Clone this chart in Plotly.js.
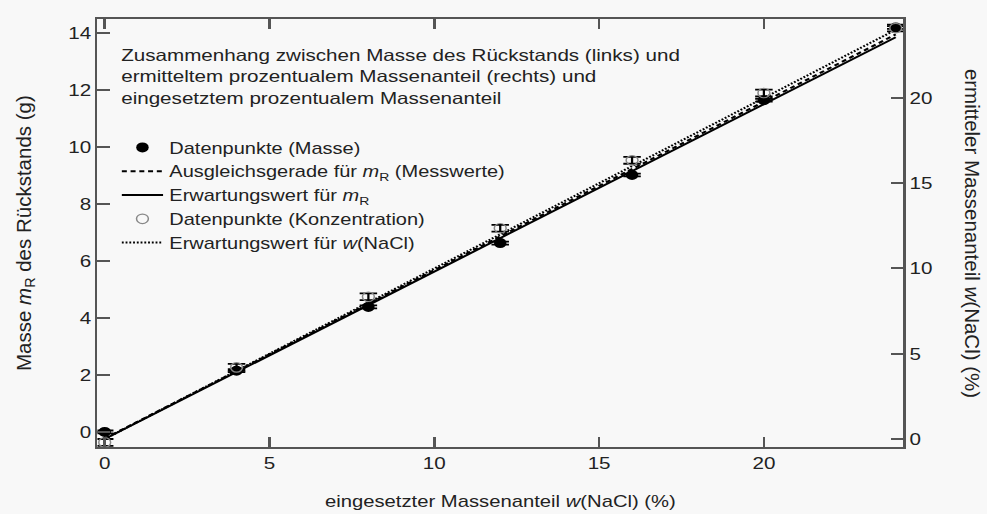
<!DOCTYPE html>
<html><head><meta charset="utf-8">
<script src="https://cdn.plot.ly/plotly-3.0.1.min.js"></script>
<style>
html,body{margin:0;padding:0;background:#f8f8f8;overflow:hidden;}
#wrap{width:987px;height:514px;overflow:hidden;}
#plot{width:790px;height:514px;transform:scaleX(1.2494);transform-origin:0 0;}
</style>
</head><body><div id="wrap"><div id="plot"></div></div>
<script>
// eingesetzter Massenanteil w(NaCl) in %
const wSet = [0, 4, 8, 12, 16, 20, 24];
// Masse des Rückstands m_R in g (Datenpunkte)
const massR = [0.0, 2.15, 4.39, 6.63, 9.02, 11.65, 14.2];
const massErr = [0.05, 0.05, 0.05, 0.05, 0.05, 0.05, 0.05];
// ermittelter Massenanteil in % (Datenpunkte)
const wFound = [-0.2, 4.2, 8.34, 12.36, 16.34, 20.29, 24.1];
const wErr = [0.2, 0.2, 0.2, 0.2, 0.2, 0.2, 0.2];
// Linien (Endpunkte)
const lineX = [0, 24];
const fitMass = [-0.23, 13.96];
const expMass = [-0.25, 13.86];
const expW = [0, 24];

const S = 987 / 790;
const font = "Liberation Sans, Arial, sans-serif";
const fs = 16.5;
const traces = [
  {x: lineX, y: fitMass, mode: 'lines', name: 'Ausgleichsgerade für <i>m</i><sub>R</sub> (Messwerte)',
   line: {color: '#000', width: 2, dash: '4px,3px'}, legendrank: 2},
  {x: lineX, y: expMass, mode: 'lines', name: 'Erwartungswert für <i>m</i><sub>R</sub>',
   line: {color: '#000', width: 2}, legendrank: 3},
  {x: lineX, y: expW, mode: 'lines', yaxis: 'y2', name: 'Erwartungswert für <i>w</i>(NaCl)',
   line: {color: '#000', width: 2, dash: '1.5px,1.5px'}, legendrank: 5},
  {x: wSet, y: wFound, mode: 'markers', yaxis: 'y2', name: 'Datenpunkte (Konzentration)',
   error_y: {type: 'data', array: wErr, visible: true, color: '#000', thickness: 1.8, width: 7},
   marker: {symbol: 'circle-open', size: 9.5, color: '#888', line: {width: 1.2, color: '#888'}}, legendrank: 4},
  {x: wSet, y: massR, mode: 'markers', name: 'Datenpunkte (Masse)',
   error_y: {type: 'data', array: massErr, visible: true, color: '#000', thickness: 1.8, width: 7},
   marker: {symbol: 'circle', size: 10, color: '#000'}, legendrank: 1}
];

const layout = {
  width: 790, height: 514,
  paper_bgcolor: '#f8f8f8', plot_bgcolor: '#f8f8f8',
  margin: {l: 78, r: 67, t: 19, b: 67},
  font: {family: font, size: fs, color: '#222'},
  showlegend: true,
  legend: {x: 0.0225, y: 0.7395, xanchor: 'left', yanchor: 'top', bgcolor: 'rgba(0,0,0,0)',
           font: {family: font, size: 16, color: '#222'}, tracegroupgap: 0, itemwidth: 33},
  xaxis: {range: [-0.22, 24.23], tickvals: [0, 5, 10, 15, 20], ticks: 'inside', ticklen: 10,
          tickcolor: '#555', tickwidth: 1.5, showline: true, linecolor: '#555', linewidth: 1.5,
          mirror: 'ticks', showgrid: false, zeroline: false,
          title: {text: 'eingesetzter Massenanteil <i>w</i>(NaCl) (%)', font: {size: 16.2}, standoff: 25}},
  yaxis: {range: [-0.53, 14.5], tickvals: [0, 2, 4, 6, 8, 10, 12, 14], ticks: 'inside', ticklen: 10,
          tickcolor: '#555', tickwidth: 1.5, showline: true, linecolor: '#555', linewidth: 1.5,
          showgrid: false, zeroline: false},
  yaxis2: {overlaying: 'y', side: 'right', range: [-0.47, 24.63], tickvals: [0, 5, 10, 15, 20],
           ticks: 'inside', ticklen: 10, tickcolor: '#555', tickwidth: 1.5, showline: true,
           linecolor: '#555', linewidth: 1.5, showgrid: false, zeroline: false},
  annotations: [
    {xref: 'paper', yref: 'paper', x: 0.026, y: 0.942, xanchor: 'left', yanchor: 'top', align: 'left',
     showarrow: false, font: {family: font, size: fs, color: '#222'},
     text: 'Zusammenhang zwischen Masse des Rückstands (links) und<br>ermitteltem prozentualem Massenanteil (rechts) und<br>eingesetztem prozentualem Massenanteil'},
    {xref: 'paper', yref: 'paper', x: -0.0899, y: 0.5, xanchor: 'center', yanchor: 'middle',
     textangle: -90, showarrow: false, font: {family: font, size: 20.5, color: '#222'},
     text: 'Masse <i>m</i><sub>R</sub> des Rückstands (g)'},
    {xref: 'paper', yref: 'paper', x: 1.087, y: 0.5, xanchor: 'center', yanchor: 'middle',
     textangle: 90, showarrow: false, font: {family: font, size: 20.5, color: '#222'},
     text: 'ermitteler Massenanteil <i>w</i>(NaCl) (%)'}
  ]
};
Plotly.newPlot('plot', traces, layout, {displayModeBar: false}).then(function (gd) {
  // keep the rotated axis titles at their natural thickness inside the stretched page
  gd.querySelectorAll('g.annotation').forEach(function (g, i) {
    if (i === 0) return;
    const r = g.getBoundingClientRect();
    const cx = (r.left + r.width / 2) / S;
    const prev = g.getAttribute('transform') || '';
    g.setAttribute('transform', 'translate(' + cx + ',0) scale(' + (1 / S) + ',1) translate(' + (-cx) + ',0) ' + prev);
  });
});
</script></body></html>
